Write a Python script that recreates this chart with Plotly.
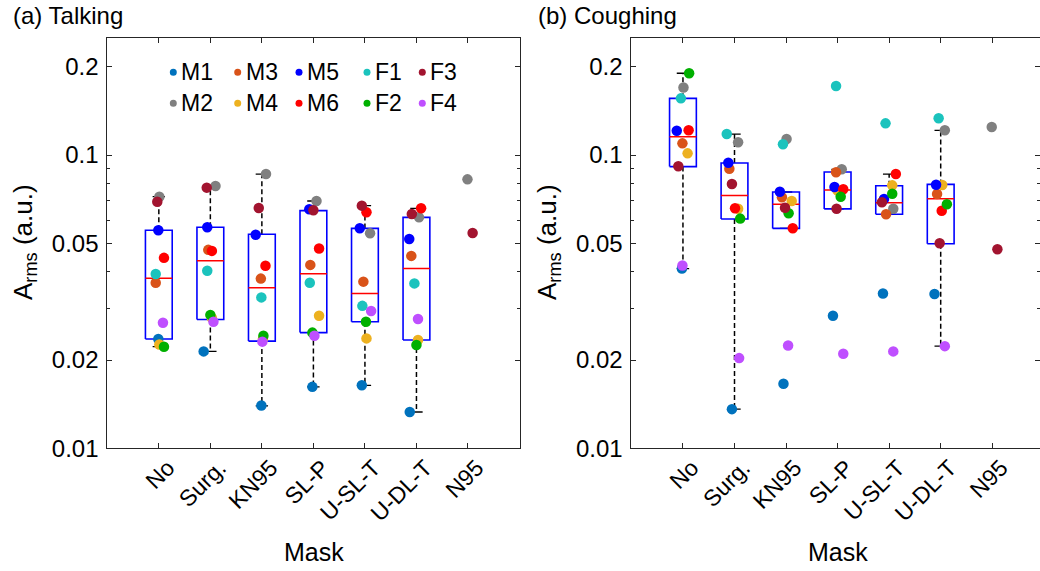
import plotly.graph_objects as go

W, H = 1040, 571

masks = ["No", "Surg.", "KN95", "SL-P", "U-SL-T", "U-DL-T", "N95"]
subjects = ["M1", "M2", "M3", "M4", "M5", "M6", "F1", "F2", "F3", "F4"]
colors = {"M1": "#0072BD", "M2": "#808080", "M3": "#D95319", "M4": "#EDB120",
          "M5": "#0000FF", "M6": "#FF0000", "F1": "#1BC3BD", "F2": "#00B000",
          "F3": "#A2142F", "F4": "#BF4FFF"}

# A_rms (a.u.) while talking, one value per mask (None = not tested)
talk_M1 = [0.0236, 0.0214, 0.0140, 0.0162, 0.0164, 0.0133, None]
talk_M2 = [0.0721, 0.0784, 0.0861, 0.0697, 0.0541, 0.0613, 0.0826]
talk_M3 = [0.0367, 0.0475, 0.0379, 0.0422, 0.0370, 0.0453, None]
talk_M4 = [0.0226, 0.0278, 0.0236, 0.0283, 0.0237, 0.0234, None]
talk_M5 = [0.0554, 0.0567, 0.0535, 0.0653, 0.0563, 0.0517, None]
talk_M6 = [0.0446, 0.0471, 0.0419, 0.0480, 0.0638, 0.0658, None]
talk_F1 = [0.0393, 0.0403, 0.0327, 0.0367, 0.0306, 0.0365, None]
talk_F2 = [0.0222, 0.0285, 0.0242, 0.0248, 0.0270, 0.0225, None]
talk_F3 = [0.0693, 0.0774, 0.0660, 0.0648, 0.0672, 0.0629, 0.0542]
talk_F4 = [0.0268, 0.0270, 0.0231, 0.0242, 0.0294, 0.0276, None]

# A_rms (a.u.) while coughing
cough_M1 = [0.0410, 0.0136, 0.0166, 0.0283, 0.0337, 0.0336, None]
cough_M2 = [0.170, 0.1105, 0.1134, 0.0894, 0.0656, 0.1214, 0.1246]
cough_M3 = [0.1096, 0.0898, 0.0718, 0.0873, 0.0628, 0.0736, None]
cough_M4 = [0.1013, 0.0656, 0.0697, 0.0756, 0.0788, 0.0790, None]
cough_M5 = [0.121, 0.0941, 0.0749, 0.0778, 0.0708, 0.0792, None]
cough_M6 = [0.1214, 0.0658, 0.0563, 0.0764, 0.0861, 0.0646, None]
cough_F1 = [0.156, 0.1179, 0.1088, 0.172, 0.1282, 0.1334, None]
cough_F2 = [0.190, 0.0607, 0.0633, 0.0721, 0.0738, 0.0679, None]
cough_F3 = [0.0915, 0.0796, 0.0661, 0.0656, 0.0690, 0.0500, 0.0477]
cough_F4 = [0.0420, 0.0203, 0.0224, 0.0210, 0.0214, 0.0223, None]

# box statistics (No .. U-DL-T; N95 has no box)
talk_lo = [0.0222, 0.0214, 0.01395, 0.0162, 0.0164, 0.0133]
talk_q1 = [0.0236, 0.0275, 0.0232, 0.0248, 0.0270, 0.0234]
talk_med = [0.0380, 0.0436, 0.0353, 0.0394, 0.0337, 0.0410]
talk_q3 = [0.0554, 0.0567, 0.0537, 0.0646, 0.0562, 0.0613]
talk_hi = [0.0721, 0.0784, 0.0861, 0.0697, 0.0672, 0.0658]

cough_lo = [0.0410, 0.0136, 0.0562, 0.0655, 0.0628, 0.0223]
cough_q1 = [0.0913, 0.0605, 0.0562, 0.0655, 0.0628, 0.0498]
cough_med = [0.1154, 0.0727, 0.0679, 0.0760, 0.0687, 0.0710]
cough_q3 = [0.156, 0.0939, 0.0748, 0.0875, 0.0786, 0.0794]
cough_hi = [0.190, 0.1179, 0.0748, 0.0894, 0.0861, 0.1214]

# horizontal jitter of the dots (category units)
jt = {"M1": [-0.01, -0.13, -0.01, -0.02, -0.06, -0.13, 0],
      "M2": [0.01, 0.10, 0.08, 0.06, 0.10, 0.05, -0.01],
      "M3": [-0.06, -0.04, -0.02, -0.06, -0.03, -0.10, 0],
      "M4": [0.01, 0.03, 0.02, 0.11, 0.03, 0.03, 0],
      "M5": [-0.01, -0.06, -0.12, -0.08, -0.10, -0.14, 0],
      "M6": [0.10, 0.03, 0.07, 0.11, 0.03, 0.09, 0],
      "F1": [-0.06, -0.06, -0.01, -0.07, -0.05, -0.04, 0],
      "F2": [0.10, 0.00, 0.03, -0.02, 0.02, 0.00, 0],
      "F3": [-0.03, -0.07, -0.06, 0.00, -0.06, -0.09, 0.09],
      "F4": [0.08, 0.06, 0.01, 0.02, 0.12, 0.03, 0]}
jc = {"M1": [-0.02, -0.05, -0.05, -0.09, -0.12, -0.12, 0],
      "M2": [0.01, 0.07, 0.01, 0.08, 0.08, 0.08, -0.01],
      "M3": [-0.01, -0.10, -0.08, -0.03, -0.06, -0.07, 0],
      "M4": [0.09, 0.07, 0.11, 0.00, 0.06, 0.03, 0],
      "M5": [-0.12, -0.12, -0.12, -0.06, -0.10, -0.09, 0],
      "M6": [0.11, 0.01, 0.13, 0.11, 0.13, 0.02, 0],
      "F1": [-0.04, -0.15, -0.06, -0.03, -0.07, -0.04, 0],
      "F2": [0.12, 0.11, 0.05, 0.06, 0.06, 0.12, 0],
      "F3": [-0.09, -0.05, -0.02, -0.02, -0.14, -0.02, 0.10],
      "F4": [-0.01, 0.09, 0.04, 0.11, 0.08, 0.08, 0]}

talk = {"M1": talk_M1, "M2": talk_M2, "M3": talk_M3, "M4": talk_M4, "M5": talk_M5,
        "M6": talk_M6, "F1": talk_F1, "F2": talk_F2, "F3": talk_F3, "F4": talk_F4}
cough = {"M1": cough_M1, "M2": cough_M2, "M3": cough_M3, "M4": cough_M4, "M5": cough_M5,
         "M6": cough_M6, "F1": cough_F1, "F2": cough_F2, "F3": cough_F3, "F4": cough_F4}

FONT = "Liberation Sans, Arial, sans-serif"
INK = "#262626"
BW = 0.26   # half box width
CW = 0.12   # half cap width

fig = go.Figure()


def add_boxes(xa, ya, lo, q1, med, q3, hi):
    bx, by, mx, my, wx, wy, cx, cy = [], [], [], [], [], [], [], []
    for i in range(len(q1)):
        c = i + 1
        bx += [c - BW, c + BW, c + BW, c - BW, c - BW, None]
        by += [q1[i], q1[i], q3[i], q3[i], q1[i], None]
        mx += [c - BW, c + BW, None]
        my += [med[i], med[i], None]
        wx += [c, c, None, c, c, None]
        wy += [q3[i], hi[i], None, q1[i], lo[i], None]
        cx += [c - CW, c + CW, None, c - CW, c + CW, None]
        cy += [hi[i], hi[i], None, lo[i], lo[i], None]
    common = dict(xaxis=xa, yaxis=ya, mode="lines", showlegend=False, hoverinfo="skip")
    fig.add_trace(go.Scatter(x=wx, y=wy, line=dict(color="black", width=1.5, dash="5px,3px"), **common))
    fig.add_trace(go.Scatter(x=cx, y=cy, line=dict(color="black", width=1.3), **common))
    fig.add_trace(go.Scatter(x=bx, y=by, line=dict(color="#0000FF", width=1.6), **common))
    fig.add_trace(go.Scatter(x=mx, y=my, line=dict(color="#FF0000", width=1.5), **common))


def add_points(xa, ya, data, jit):
    for s in subjects:
        xs, ys = [], []
        for i, v in enumerate(data[s]):
            if v is not None:
                xs.append(i + 1 + jit[s][i])
                ys.append(v)
        fig.add_trace(go.Scatter(x=xs, y=ys, xaxis=xa, yaxis=ya, mode="markers", name=s,
                                 showlegend=False,
                                 marker=dict(color=colors[s], size=10.5, line=dict(width=0))))


add_boxes("x", "y", talk_lo, talk_q1, talk_med, talk_q3, talk_hi)
add_points("x", "y", talk, jt)
add_boxes("x2", "y2", cough_lo, cough_q1, cough_med, cough_q3, cough_hi)
add_points("x2", "y2", cough, jc)

y_dom = [1 - 448.3 / H, 1 - 37.7 / H]
xax = dict(tickvals=list(range(1, 8)), ticktext=masks, tickangle=-45, automargin=False,
           ticks="inside", ticklen=5, tickcolor=INK, showline=True, linecolor=INK,
           linewidth=1, mirror="ticks", showgrid=False, zeroline=False,
           ticklabelshift=9, ticklabelstandoff=-4,
           tickfont=dict(family=FONT, size=23, color="black"))
yax = dict(type="log", range=[-2, -0.6], domain=y_dom, automargin=False,
           tickvals=[0.01, 0.02, 0.05, 0.1, 0.2], ticktext=["0.01", "0.02", "0.05", "0.1", "0.2"],
           ticks="inside", ticklen=5, tickcolor=INK, showline=True, linecolor=INK,
           linewidth=1, mirror="ticks", showgrid=False, zeroline=False, ticklabelstandoff=3,
           minor=dict(tickmode="array", tickvals=[0.03, 0.04, 0.06, 0.07, 0.08, 0.09],
                      ticks="inside", ticklen=3, tickcolor=INK, showgrid=False),
           tickfont=dict(family=FONT, size=24, color="black"))

fig.update_layout(
    width=W, height=H, margin=dict(l=0, r=0, t=0, b=0, autoexpand=False),
    paper_bgcolor="white", plot_bgcolor="white", showlegend=False,
    xaxis=dict(xax, domain=[107.3 / W, 519.5 / W], range=[0, 8], anchor="y"),
    yaxis=dict(yax, anchor="x"),
    xaxis2=dict(xax, domain=[631.4 / W, 1.0], range=[0, 408.6 / 51.55], anchor="y2"),
    yaxis2=dict(yax, anchor="x2"),
)

ann = []
for txt, x in [("(a) Talking", 11), ("(b) Coughing", 536)]:
    ann.append(dict(text=txt, x=x / W, y=1 - 15 / H, xref="paper", yref="paper",
                    xanchor="left", yanchor="middle", showarrow=False,
                    font=dict(family=FONT, size=24, color="black")))
for x in [313.5, 837.7]:
    ann.append(dict(text="Mask", x=x / W, y=1 - 551.7 / H, xref="paper", yref="paper",
                    xanchor="center", yanchor="middle", showarrow=False,
                    font=dict(family=FONT, size=25, color="black")))
for x in [24, 548]:
    ann.append(dict(text="A<sub>rms</sub> (a.u.)", x=x / W, y=1 - 242 / H, xref="paper",
                    yref="paper", xanchor="center", yanchor="middle", textangle=-90,
                    showarrow=False, font=dict(family=FONT, size=26, color="black")))

# legend, laid out in two rows of five like the original
leg_rows = [["M1", "M3", "M5", "F1", "F3"], ["M2", "M4", "M6", "F2", "F4"]]
leg_x = [173.3, 237.7, 299, 367, 422.3]
leg_y = [72.3, 103.3]
shapes = []
for r, row in enumerate(leg_rows):
    for c, s in enumerate(row):
        px, py = leg_x[c] / W, 1 - leg_y[r] / H
        shapes.append(dict(type="circle", xref="paper", yref="paper", xsizemode="pixel",
                           ysizemode="pixel", xanchor=px, yanchor=py, x0=-3.5, x1=3.5,
                           y0=-3.5, y1=3.5, fillcolor=colors[s], line=dict(width=0)))
        ann.append(dict(text=s, x=(leg_x[c] + 6) / W, y=py, xref="paper", yref="paper",
                        xanchor="left", yanchor="middle", showarrow=False,
                        font=dict(family=FONT, size=23, color="black")))

fig.update_layout(annotations=ann, shapes=shapes)
fig.write_html("out.html", config={"displayModeBar": False},
               post_script="document.body.style.margin='0';")
